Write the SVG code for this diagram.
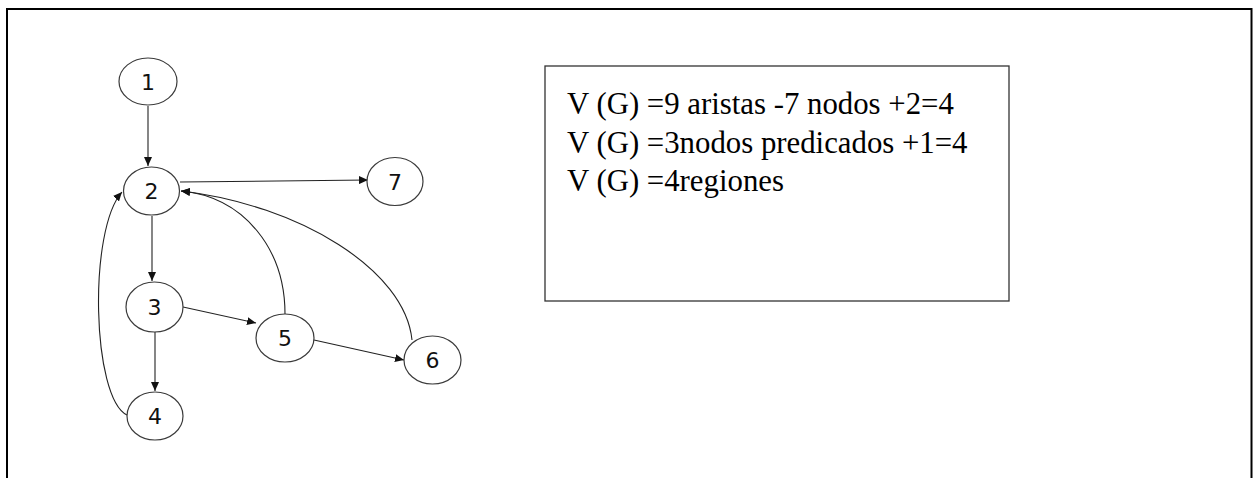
<svg xmlns="http://www.w3.org/2000/svg" width="1256" height="478" viewBox="0 0 1256 478">
  <style>
    .node ellipse { fill: #ffffff; stroke: #3a3a3a; stroke-width: 1.2; }
    .node text { font-family: "DejaVu Sans", "Liberation Sans", sans-serif; font-size: 22px; fill: #111; text-anchor: middle; dominant-baseline: central; }
    .edge { fill: none; stroke: #222; stroke-width: 1.1; marker-end: url(#arrow); }
    .formula { font-family: "Liberation Serif", "Times New Roman", serif; font-size: 30.8px; fill: #000; }
  </style>
  <defs>
    <marker id="arrow" markerUnits="userSpaceOnUse" markerWidth="10" markerHeight="8" refX="9" refY="4" orient="auto">
      <path d="M0,0 L9,4 L0,8 Z" fill="#111"/>
    </marker>
  </defs>
  <rect width="1256" height="478" fill="#ffffff"/>
  <path d="M7,478 V9 H1251.5 V478" fill="none" stroke="#000" stroke-width="2"/>

  <g id="connectors">
    <path class="edge" d="M148,106 V166"/>
    <path class="edge" d="M180,182 L368,180"/>
    <path class="edge" d="M152,216 V281"/>
    <path class="edge" d="M155,332 V391"/>
    <path class="edge" d="M183,307 L256,323"/>
    <path class="edge" d="M314,340 L404,360"/>
    <path class="edge" d="M285,314 C285,250 245,197 181,191"/>
    <path class="edge" d="M412,340 C405,270 300,205 181,191"/>
    <path class="edge" d="M127,415 C92,398 88,230 122,192"/>
  </g>

  <g id="node1" class="node"><ellipse cx="148" cy="81.5" rx="29" ry="23.5"/><text x="148" y="82">1</text></g>
  <g id="node2" class="node"><ellipse cx="151.5" cy="191" rx="28" ry="24"/><text x="151.5" y="191">2</text></g>
  <g id="node7" class="node"><ellipse cx="395" cy="181.5" rx="28" ry="24"/><text x="395" y="182">7</text></g>
  <g id="node3" class="node"><ellipse cx="154.5" cy="307" rx="28.5" ry="25"/><text x="154.5" y="307">3</text></g>
  <g id="node5" class="node"><ellipse cx="285" cy="338" rx="29" ry="24"/><text x="285" y="338">5</text></g>
  <g id="node6" class="node"><ellipse cx="432.5" cy="360" rx="28.5" ry="24"/><text x="432.5" y="360">6</text></g>
  <g id="node4" class="node"><ellipse cx="155" cy="416" rx="28" ry="24"/><text x="155" y="416">4</text></g>

  <g id="formula-box">
    <rect x="545" y="66" width="464" height="235" fill="#ffffff" stroke="#333" stroke-width="1.3"/>
    <text class="formula" x="567" y="114">V (G) =9 aristas -7 nodos +2=4</text>
    <text class="formula" x="567" y="153">V (G) =3nodos predicados +1=4</text>
    <text class="formula" x="567" y="191">V (G) =4regiones</text>
  </g>
</svg>
